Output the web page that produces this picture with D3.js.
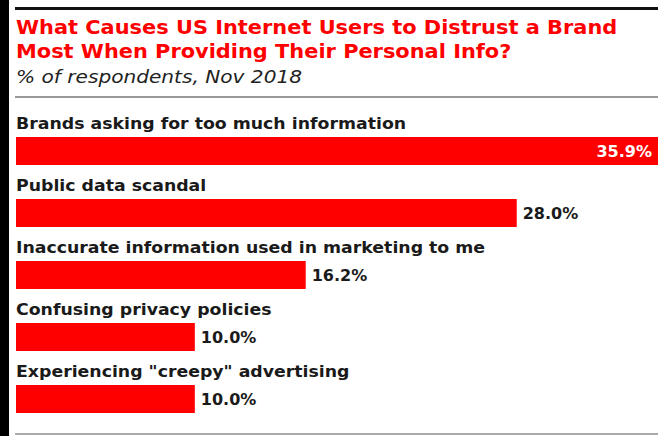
<!DOCTYPE html>
<html lang="en">
<head>
  <meta charset="UTF-8" />
  <title>Distrust a Brand</title>
  <style>
    html, body { margin: 0; padding: 0; background: #fff; }
    #chart { width: 658px; height: 436px; overflow: hidden; }
    svg text { font-family: "DejaVu Sans", Verdana, sans-serif; }
  </style>
</head>
<body>
  <div id="chart"></div>

  <script src="https://cdn.jsdelivr.net/npm/d3@7"></script>
  <script>
    // Chart data
    const categories = [
      "Brands asking for too much information",
      "Public data scandal",
      "Inaccurate information used in marketing to me",
      "Confusing privacy policies",
      "Experiencing \"creepy\" advertising"
    ];
    const values = [35.9, 28.0, 16.2, 10.0, 10.0];
    const titleLines = [
      "What Causes US Internet Users to Distrust a Brand",
      "Most When Providing Their Personal Info?"
    ];
    const subtitle = "% of respondents, Nov 2018";

    const width = 658, height = 436;
    const left = 16;

    const svg = d3.select("#chart")
      .append("svg")
      .attr("width", width)
      .attr("height", height);

    // Black strip on the left edge
    svg.append("rect")
      .attr("x", 0).attr("y", 0)
      .attr("width", 9).attr("height", height)
      .attr("fill", "#000");

    // Top rule
    svg.append("rect")
      .attr("x", 15).attr("y", 7)
      .attr("width", width - 15).attr("height", 3)
      .attr("fill", "#111");

    // Title (text is a little wider than the font, so stretch it)
    svg.selectAll(".title")
      .data(titleLines)
      .enter()
      .append("text")
      .attr("class", "title")
      .attr("transform", (d, i) => `translate(${left}, ${34 + i * 24}) scale(1.1, 1)`)
      .attr("fill", "#ff0000")
      .style("font-size", "19px")
      .style("font-weight", "bold")
      .text(d => d);

    svg.append("text")
      .attr("transform", `translate(${left}, 83) scale(1.15, 1)`)
      .attr("fill", "#222")
      .style("font-size", "17.5px")
      .style("font-style", "italic")
      .text(subtitle);

    // Rule under subtitle
    svg.append("rect")
      .attr("x", 15).attr("y", 96)
      .attr("width", width - 15).attr("height", 2)
      .attr("fill", "#999");

    // Bottom rule
    svg.append("rect")
      .attr("x", 15).attr("y", 433)
      .attr("width", width - 15).attr("height", 2)
      .attr("fill", "#aaa");

    // Scales
    const x = d3.scaleLinear()
      .domain([0, 35.9])
      .range([left, width]);

    const band = d3.scaleBand()
      .domain(categories)
      .range([110, 420])
      .paddingInner(0)
      .paddingOuter(0);

    const barH = 28;

    const rows = svg.selectAll(".row")
      .data(categories.map((c, i) => ({ key: c, value: values[i] })))
      .enter()
      .append("g")
      .attr("class", "row")
      .attr("transform", d => `translate(0, ${band(d.key)})`);

    // Category label
    rows.append("text")
      .attr("transform", `translate(${left}, 19) scale(1.05, 1)`)
      .attr("fill", "#1a1a1a")
      .style("font-size", "16.5px")
      .style("font-weight", "bold")
      .text(d => d.key);

    // Bar
    rows.append("rect")
      .attr("x", x(0))
      .attr("y", 27)
      .attr("width", d => x(d.value) - x(0))
      .attr("height", barH)
      .attr("fill", "#ff0000");

    // Value label: inside for the longest bar, outside otherwise
    rows.append("text")
      .attr("x", (d, i) => i === 0 ? x(d.value) - 6 : x(d.value) + 6)
      .attr("y", 27 + barH / 2 + 6)
      .attr("text-anchor", (d, i) => i === 0 ? "end" : "start")
      .attr("fill", (d, i) => i === 0 ? "#fff" : "#1a1a1a")
      .style("font-size", "16px")
      .style("font-weight", "bold")
      .text(d => d.value.toFixed(1) + "%");
  </script>
</body>
</html>
